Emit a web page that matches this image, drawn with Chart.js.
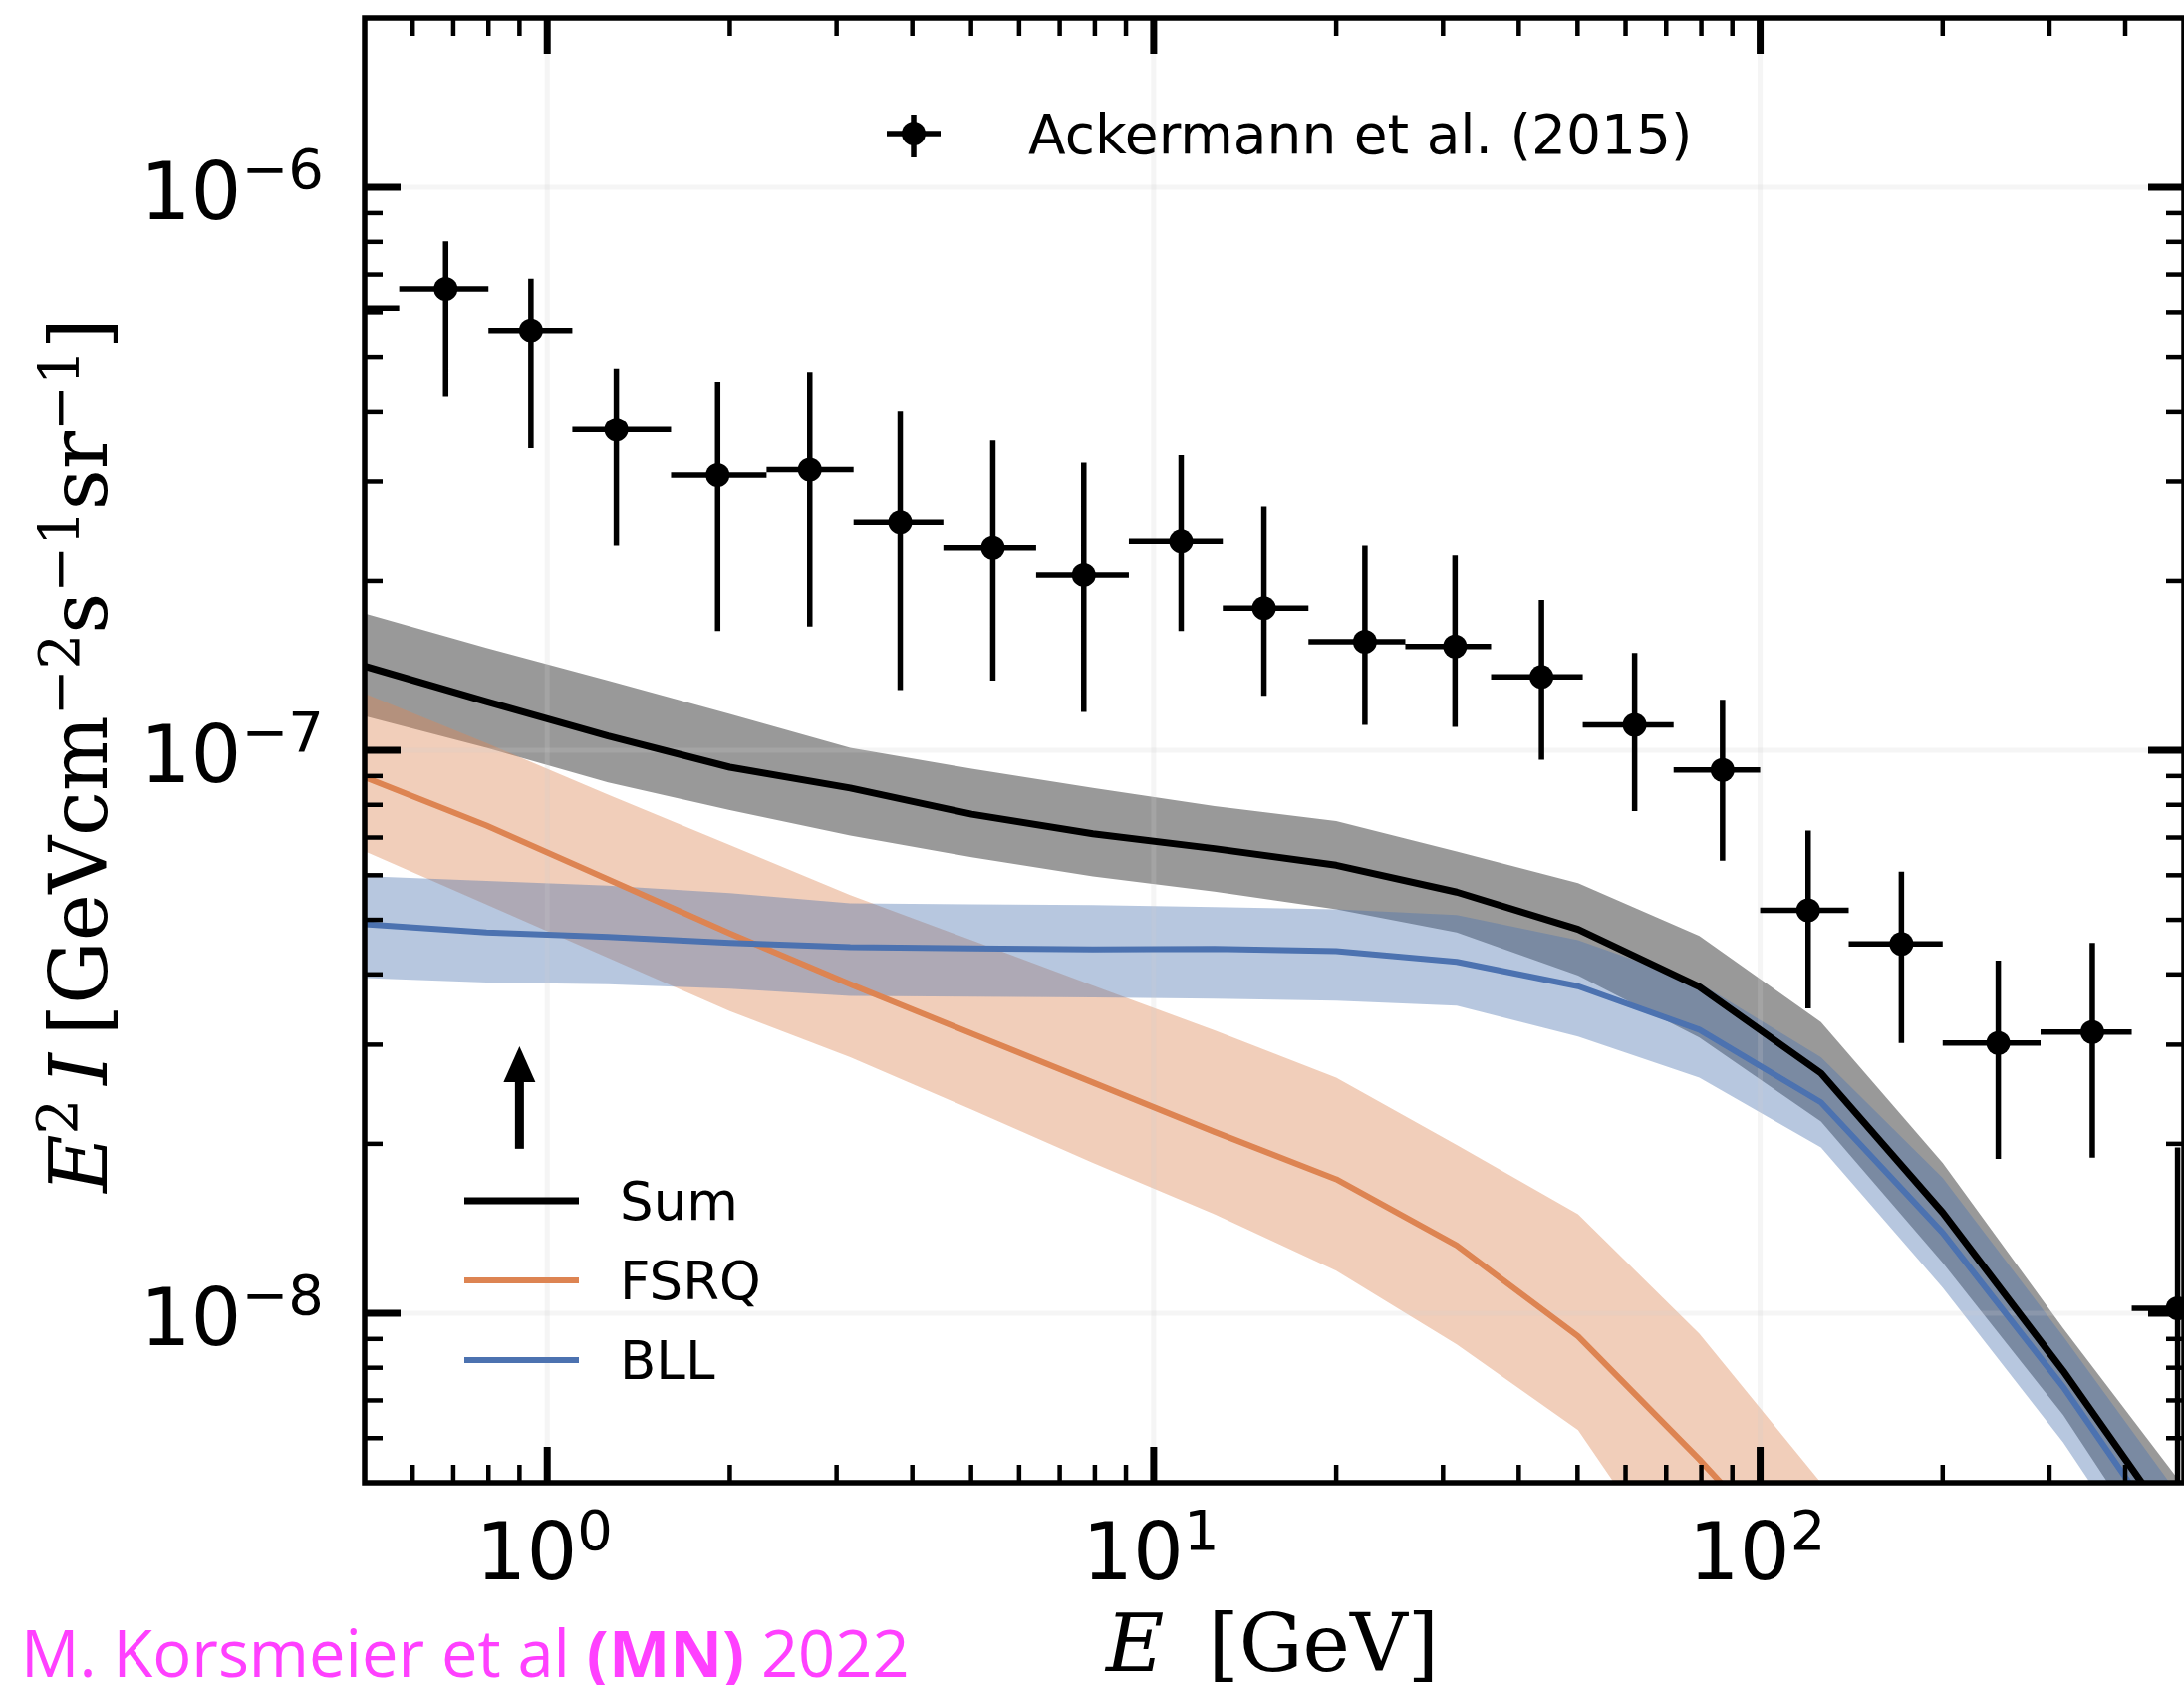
<!DOCTYPE html>
<html>
<head>
<meta charset="utf-8">
<script src="https://cdn.jsdelivr.net/npm/chart.js@4.4.1/dist/chart.umd.min.js"></script>
<style>
html, body { margin: 0; padding: 0; background: #ffffff; overflow: hidden; }
#wrap { position: relative; width: 2204px; height: 1691px; }
canvas { display: block; }
</style>
</head>
<body>
<div id="wrap"><canvas id="c" width="2204" height="1691"></canvas></div>
<script>
// ---------- axis ranges & ticks ----------
const X_MIN = 0.5, X_MAX = 500;
const Y_MIN = 5e-9, Y_MAX = 2e-6;
const X_TICKS = [1, 10, 100];
const X_TICK_EXP = ['0', '1', '2'];
const Y_TICKS = [1e-8, 1e-7, 1e-6];
const Y_TICK_EXP = ['\u22128', '\u22127', '\u22126'];

// ---------- model grid (GeV) ----------
const E_GRID = [0.501, 0.794, 1.26, 2.00, 3.16, 5.01, 7.94, 12.6, 20.0, 31.6, 50.1, 79.4, 126, 200, 316, 501];

// Sum
const SUM    = [1.41e-7, 1.22e-7, 1.06e-7, 9.33e-8, 8.57e-8, 7.70e-8, 7.11e-8, 6.69e-8, 6.25e-8, 5.60e-8, 4.81e-8, 3.80e-8, 2.67e-8, 1.51e-8, 7.9e-9, 3.9e-9];
const SUM_HI = [1.75e-7, 1.52e-7, 1.33e-7, 1.16e-7, 1.01e-7, 9.27e-8, 8.57e-8, 7.96e-8, 7.49e-8, 6.61e-8, 5.81e-8, 4.68e-8, 3.29e-8, 1.85e-8, 9.4e-9, 4.9e-9];
const SUM_LO = [1.15e-7, 1.01e-7, 8.77e-8, 7.83e-8, 7.06e-8, 6.46e-8, 5.97e-8, 5.61e-8, 5.22e-8, 4.75e-8, 3.98e-8, 3.09e-8, 2.19e-8, 1.23e-8, 6.6e-9, 3.1e-9];

// FSRQ
const FSRQ    = [8.95e-8, 7.35e-8, 5.90e-8, 4.73e-8, 3.84e-8, 3.14e-8, 2.57e-8, 2.10e-8, 1.73e-8, 1.32e-8, 9.1e-9, 5.5e-9, 3.2e-9, 1.6e-9];
const FSRQ_HI = [1.26e-7, 1.03e-7, 8.34e-8, 6.79e-8, 5.53e-8, 4.60e-8, 3.82e-8, 3.18e-8, 2.62e-8, 1.99e-8, 1.50e-8, 9.2e-9, 5.0e-9, 2.5e-9];
const FSRQ_LO = [6.61e-8, 5.32e-8, 4.28e-8, 3.44e-8, 2.85e-8, 2.30e-8, 1.85e-8, 1.50e-8, 1.19e-8, 8.8e-9, 6.2e-9, 3.0e-9, 1.5e-9, 7e-10];

// BLL
const BLL    = [4.91e-8, 4.75e-8, 4.66e-8, 4.55e-8, 4.47e-8, 4.45e-8, 4.43e-8, 4.44e-8, 4.40e-8, 4.21e-8, 3.81e-8, 3.19e-8, 2.37e-8, 1.39e-8, 7.4e-9, 3.6e-9];
const BLL_HI = [5.98e-8, 5.86e-8, 5.75e-8, 5.58e-8, 5.35e-8, 5.33e-8, 5.31e-8, 5.27e-8, 5.22e-8, 5.10e-8, 4.60e-8, 3.86e-8, 2.85e-8, 1.74e-8, 9.1e-9, 4.6e-9];
const BLL_LO = [3.94e-8, 3.87e-8, 3.84e-8, 3.77e-8, 3.66e-8, 3.65e-8, 3.64e-8, 3.62e-8, 3.59e-8, 3.52e-8, 3.10e-8, 2.62e-8, 1.97e-8, 1.11e-8, 5.9e-9, 2.8e-9];

// Ackermann et al. (2015) IGRB
const ACK_E   = [0.48, 0.68, 0.94, 1.30, 1.91, 2.71, 3.82, 5.43, 7.67, 11.1, 15.2, 22.3, 31.4, 43.6, 62.1, 86.7, 120, 171, 247, 353, 488];
const ACK_ELO = [0.40, 0.57, 0.80, 1.10, 1.60, 2.30, 3.20, 4.50, 6.40, 9.10, 13.0, 18.0, 26.0, 36.0, 51.0, 72.0, 100, 140, 200, 290, 410];
const ACK_EHI = [0.57, 0.80, 1.10, 1.60, 2.30, 3.20, 4.50, 6.40, 9.10, 13.0, 18.0, 26.0, 36.0, 51.0, 72.0, 100, 140, 200, 290, 410, 580];
const ACK_V   = [6.1e-7, 6.60e-7, 5.57e-7, 3.71e-7, 3.08e-7, 3.15e-7, 2.54e-7, 2.29e-7, 2.05e-7, 2.35e-7, 1.79e-7, 1.56e-7, 1.53e-7, 1.35e-7, 1.11e-7, 9.23e-8, 5.20e-8, 4.53e-8, 3.02e-8, 3.16e-8, 1.02e-8];
const ACK_HI  = [7.6e-7, 8.02e-7, 6.88e-7, 4.77e-7, 4.52e-7, 4.70e-7, 4.01e-7, 3.55e-7, 3.24e-7, 3.34e-7, 2.71e-7, 2.31e-7, 2.22e-7, 1.85e-7, 1.49e-7, 1.23e-7, 7.20e-8, 6.09e-8, 4.23e-8, 4.55e-8, 1.97e-8];
const ACK_LO  = [4.3e-7, 4.26e-7, 3.44e-7, 2.31e-7, 1.63e-7, 1.66e-7, 1.28e-7, 1.33e-7, 1.17e-7, 1.63e-7, 1.25e-7, 1.11e-7, 1.10e-7, 9.62e-8, 7.80e-8, 6.37e-8, 3.48e-8, 3.02e-8, 1.88e-8, 1.89e-8, 3.0e-9];

// annotation arrow (data coords)
const ARROW_E = 0.9, ARROW_FROM = 1.96e-8, ARROW_TO = 2.98e-8;

// labels
const LEGEND_TOP = 'Ackermann et al. (2015)';
const LEGEND_NAMES = ['Sum', 'FSRQ', 'BLL'];
const CREDIT = ['M. Korsmeier et al ', '(MN)', ' 2022'];

// ---------- styles ----------
const C_SUM = '#000000', C_FSRQ = '#dd8452', C_BLL = '#4c72b0';
const LEGEND_COLORS = [C_SUM, C_FSRQ, C_BLL];
const LEGEND_WIDTHS = [7, 6, 6];

function pts(xs, ys) { return ys.map((v, i) => ({ x: xs[i], y: v })); }
function vbars() {
  const d = [];
  ACK_E.forEach((e, i) => { d.push({ x: e, y: ACK_LO[i] }, { x: e, y: ACK_HI[i] }, { x: e, y: null }); });
  return d;
}
function hbars() {
  const d = [];
  ACK_E.forEach((e, i) => { d.push({ x: ACK_ELO[i], y: ACK_V[i] }, { x: ACK_EHI[i], y: ACK_V[i] }, { x: ACK_EHI[i], y: null }); });
  return d;
}
function band(xs, hi, lo, color, order) {
  return [
    { data: pts(xs, hi), borderWidth: 0, borderColor: 'transparent', pointRadius: 0, fill: '+1', backgroundColor: color, order: order, clip: 0 },
    { data: pts(xs, lo), borderWidth: 0, borderColor: 'transparent', pointRadius: 0, fill: false, order: order, clip: 0 }
  ];
}
function line(xs, ys, color, w, order) {
  return { data: pts(xs, ys), borderColor: color, borderWidth: w, pointRadius: 0, fill: false, order: order, clip: 0, borderJoinStyle: 'round', borderCapStyle: 'butt' };
}

const datasets = [].concat(
  band(E_GRID, SUM_HI, SUM_LO, 'rgba(0,0,0,0.4)', 20),
  band(E_GRID.slice(0, FSRQ_HI.length), FSRQ_HI, FSRQ_LO, 'rgba(221,132,82,0.4)', 19),
  band(E_GRID, BLL_HI, BLL_LO, 'rgba(76,114,176,0.4)', 18),
  [
    line(E_GRID, SUM, C_SUM, 7, 7),
    line(E_GRID.slice(0, FSRQ.length), FSRQ, C_FSRQ, 6, 6),
    line(E_GRID, BLL, C_BLL, 6, 5),
    { data: hbars(), borderColor: '#000', borderWidth: 5.5, pointRadius: 0, fill: false, spanGaps: false, order: 4, clip: 0 },
    { data: vbars(), borderColor: '#000', borderWidth: 5.5, pointRadius: 0, fill: false, spanGaps: false, order: 3, clip: 0 },
    { data: pts(ACK_E, ACK_V), showLine: false, pointRadius: 12, pointBackgroundColor: '#000', pointBorderColor: '#000', pointBorderWidth: 0, order: 2, clip: 0 }
  ]
);

// ---------- rich text helpers ----------
function richWidth(ctx, parts) {
  let w = 0;
  for (const p of parts) { ctx.font = p.font; w += ctx.measureText(p.t).width + (p.sp || 0); }
  return w;
}
function drawRich(ctx, parts, x, y) {
  let cx = x;
  for (const p of parts) {
    ctx.font = p.font;
    ctx.fillText(p.t, cx, y - (p.rise || 0));
    cx += ctx.measureText(p.t).width + (p.sp || 0);
  }
}

const TICK_FONT = '80px "DejaVu Sans"';
const SUP_FONT = '56px "DejaVu Sans"';
const SERIF = '80px "DejaVu Serif"';
const SERIF_I = 'italic 80px "DejaVu Serif"';
const SERIF_SUP = '56px "DejaVu Serif"';

const decor = {
  id: 'decor',
  beforeDatasetsDraw(chart) {
    // grid lines (between bands and lines, as in matplotlib)
    const ctx = chart.ctx, a = chart.chartArea;
    const xs = chart.scales.x, ys = chart.scales.y;
    ctx.save();
    ctx.beginPath(); ctx.rect(a.left, a.top, a.right - a.left, a.bottom - a.top); ctx.clip();
    ctx.strokeStyle = 'rgba(205,205,205,0.2)';
    ctx.lineWidth = 5;
    for (const v of X_TICKS) {
      const px = xs.getPixelForValue(v);
      ctx.beginPath(); ctx.moveTo(px, a.top); ctx.lineTo(px, a.bottom); ctx.stroke();
    }
    for (const v of Y_TICKS) {
      const py = ys.getPixelForValue(v);
      ctx.beginPath(); ctx.moveTo(a.left, py); ctx.lineTo(a.right, py); ctx.stroke();
    }
    ctx.restore();
  },
  afterDatasetsDraw(chart) {
    const ctx = chart.ctx, a = chart.chartArea;
    const xs = chart.scales.x, ys = chart.scales.y;
    ctx.save();

    // arrow annotation
    {
      const px = xs.getPixelForValue(ARROW_E);
      const y0 = ys.getPixelForValue(ARROW_FROM), y1 = ys.getPixelForValue(ARROW_TO);
      const head = 36, hw = 16, sw = 4.5;
      ctx.fillStyle = '#000';
      ctx.fillRect(px - sw, y1 + head - 1, 2 * sw, y0 - (y1 + head - 1));
      ctx.beginPath(); ctx.moveTo(px - hw, y1 + head); ctx.lineTo(px + hw, y1 + head); ctx.lineTo(px, y1); ctx.closePath(); ctx.fill();
    }

    // spines
    ctx.strokeStyle = '#000'; ctx.lineWidth = 5.5; ctx.lineJoin = 'miter';
    ctx.strokeRect(a.left, a.top, a.right - a.left, a.bottom - a.top);

    // ticks
    const tick = (x1, y1, x2, y2, w) => { ctx.lineWidth = w; ctx.beginPath(); ctx.moveTo(x1, y1); ctx.lineTo(x2, y2); ctx.stroke(); };
    ctx.lineCap = 'butt';
    const MAJ = 36, MIN = 18, WMAJ = 7, WMIN = 4.5;
    for (let d = -1; d <= 2; d++) {
      for (let m = 1; m <= 9; m++) {
        const v = m * Math.pow(10, d);
        if (v <= X_MIN * 1.001 || v >= X_MAX * 0.999) continue;
        const px = xs.getPixelForValue(v);
        const L = m === 1 ? MAJ : MIN, W = m === 1 ? WMAJ : WMIN;
        tick(px, a.bottom, px, a.bottom - L, W);
        tick(px, a.top, px, a.top + L, W);
      }
    }
    for (let d = -9; d <= -6; d++) {
      for (let m = 1; m <= 9; m++) {
        const v = m * Math.pow(10, d);
        if (v <= Y_MIN * 1.001 || v >= Y_MAX * 0.999) continue;
        const py = ys.getPixelForValue(v);
        const L = m === 1 ? MAJ : MIN, W = m === 1 ? WMAJ : WMIN;
        tick(a.left, py, a.left + L, py, W);
        tick(a.right, py, a.right - L, py, W);
      }
    }

    // tick labels
    ctx.fillStyle = '#000'; ctx.textAlign = 'left'; ctx.textBaseline = 'alphabetic';
    X_TICKS.forEach((v, i) => {
      const parts = [{ t: '10', font: TICK_FONT }, { t: X_TICK_EXP[i], font: SUP_FONT, rise: 30 }];
      const w = richWidth(ctx, parts);
      const px = xs.getPixelForValue(v);
      drawRich(ctx, parts, px - w / 2 - 3, a.bottom + 97);
    });
    Y_TICKS.forEach((v, i) => {
      const parts = [{ t: '10', font: TICK_FONT }, { t: Y_TICK_EXP[i], font: SUP_FONT, rise: 31 }];
      const w = richWidth(ctx, parts);
      const py = ys.getPixelForValue(v);
      drawRich(ctx, parts, 325 - w, py + 32);
    });

    // x title
    {
      const parts = [{ t: 'E', font: SERIF_I, sp: 44 }, { t: '[GeV]', font: SERIF }];
      const w = richWidth(ctx, parts);
      const cx = (a.left + a.right) / 2 - 2;
      drawRich(ctx, parts, cx - w / 2, 1677);
    }
    // y title (rotated)
    {
      const parts = [
        { t: 'E', font: SERIF_I },
        { t: '2', font: SERIF_SUP, rise: 30, sp: 14 },
        { t: 'I', font: SERIF_I, sp: 18 },
        { t: '[GeVcm', font: SERIF },
        { t: '\u22122', font: SERIF_SUP, rise: 28 },
        { t: 's', font: SERIF },
        { t: '\u22121', font: SERIF_SUP, rise: 28 },
        { t: 'sr', font: SERIF },
        { t: '\u22121', font: SERIF_SUP, rise: 28 },
        { t: ']', font: SERIF }
      ];
      const w = richWidth(ctx, parts);
      ctx.save();
      ctx.translate(107, (a.top + a.bottom) / 2 + 5);
      ctx.rotate(-Math.PI / 2);
      drawRich(ctx, parts, -w / 2, 0);
      ctx.restore();
    }

    // top legend (errorbar marker)
    {
      const mx = 917, my = 134;
      ctx.strokeStyle = '#000'; ctx.lineWidth = 5.5;
      ctx.beginPath(); ctx.moveTo(890, my); ctx.lineTo(944, my); ctx.stroke();
      ctx.beginPath(); ctx.moveTo(mx, 115); ctx.lineTo(mx, 158); ctx.stroke();
      ctx.beginPath(); ctx.arc(mx, my, 12, 0, Math.PI * 2); ctx.fillStyle = '#000'; ctx.fill();
      ctx.font = '55px "DejaVu Sans"';
      ctx.fillText(LEGEND_TOP, 1032, 154);
    }
    // lower legend
    {
      const ysL = [1205, 1285, 1365];
      LEGEND_NAMES.forEach((n, i) => {
        ctx.strokeStyle = LEGEND_COLORS[i]; ctx.lineWidth = LEGEND_WIDTHS[i];
        ctx.beginPath(); ctx.moveTo(466, ysL[i]); ctx.lineTo(581, ysL[i]); ctx.stroke();
        ctx.fillStyle = '#000';
        ctx.font = '53px "DejaVu Sans"';
        ctx.fillText(n, 622, ysL[i] + 19);
      });
    }
    // credit
    {
      ctx.fillStyle = '#ff40ff';
      const parts = [
        { t: CREDIT[0], font: '65px "Open Sans"' },
        { t: CREDIT[1], font: 'bold 65px "Open Sans"' },
        { t: CREDIT[2], font: '65px "Open Sans"' }
      ];
      drawRich(ctx, parts, 21, 1683);
    }
    ctx.restore();
  }
};

new Chart(document.getElementById('c'), {
  type: 'line',
  data: { datasets: datasets },
  options: {
    responsive: false,
    animation: false,
    events: [],
    layout: { padding: { left: 366, top: 18, right: 5, bottom: 203 } },
    plugins: {
      legend: { display: false },
      tooltip: { enabled: false },
      filler: { drawTime: 'beforeDatasetsDraw', propagate: false }
    },
    scales: {
      x: {
        type: 'logarithmic', min: X_MIN, max: X_MAX,
        ticks: { display: false },
        grid: { display: false, drawTicks: false },
        border: { display: false },
        afterBuildTicks: s => { s.ticks = X_TICKS.map(v => ({ value: v })); }
      },
      y: {
        type: 'logarithmic', min: Y_MIN, max: Y_MAX,
        ticks: { display: false },
        grid: { display: false, drawTicks: false },
        border: { display: false },
        afterBuildTicks: s => { s.ticks = Y_TICKS.map(v => ({ value: v })); }
      }
    }
  },
  plugins: [decor]
});
</script>
</body>
</html>
